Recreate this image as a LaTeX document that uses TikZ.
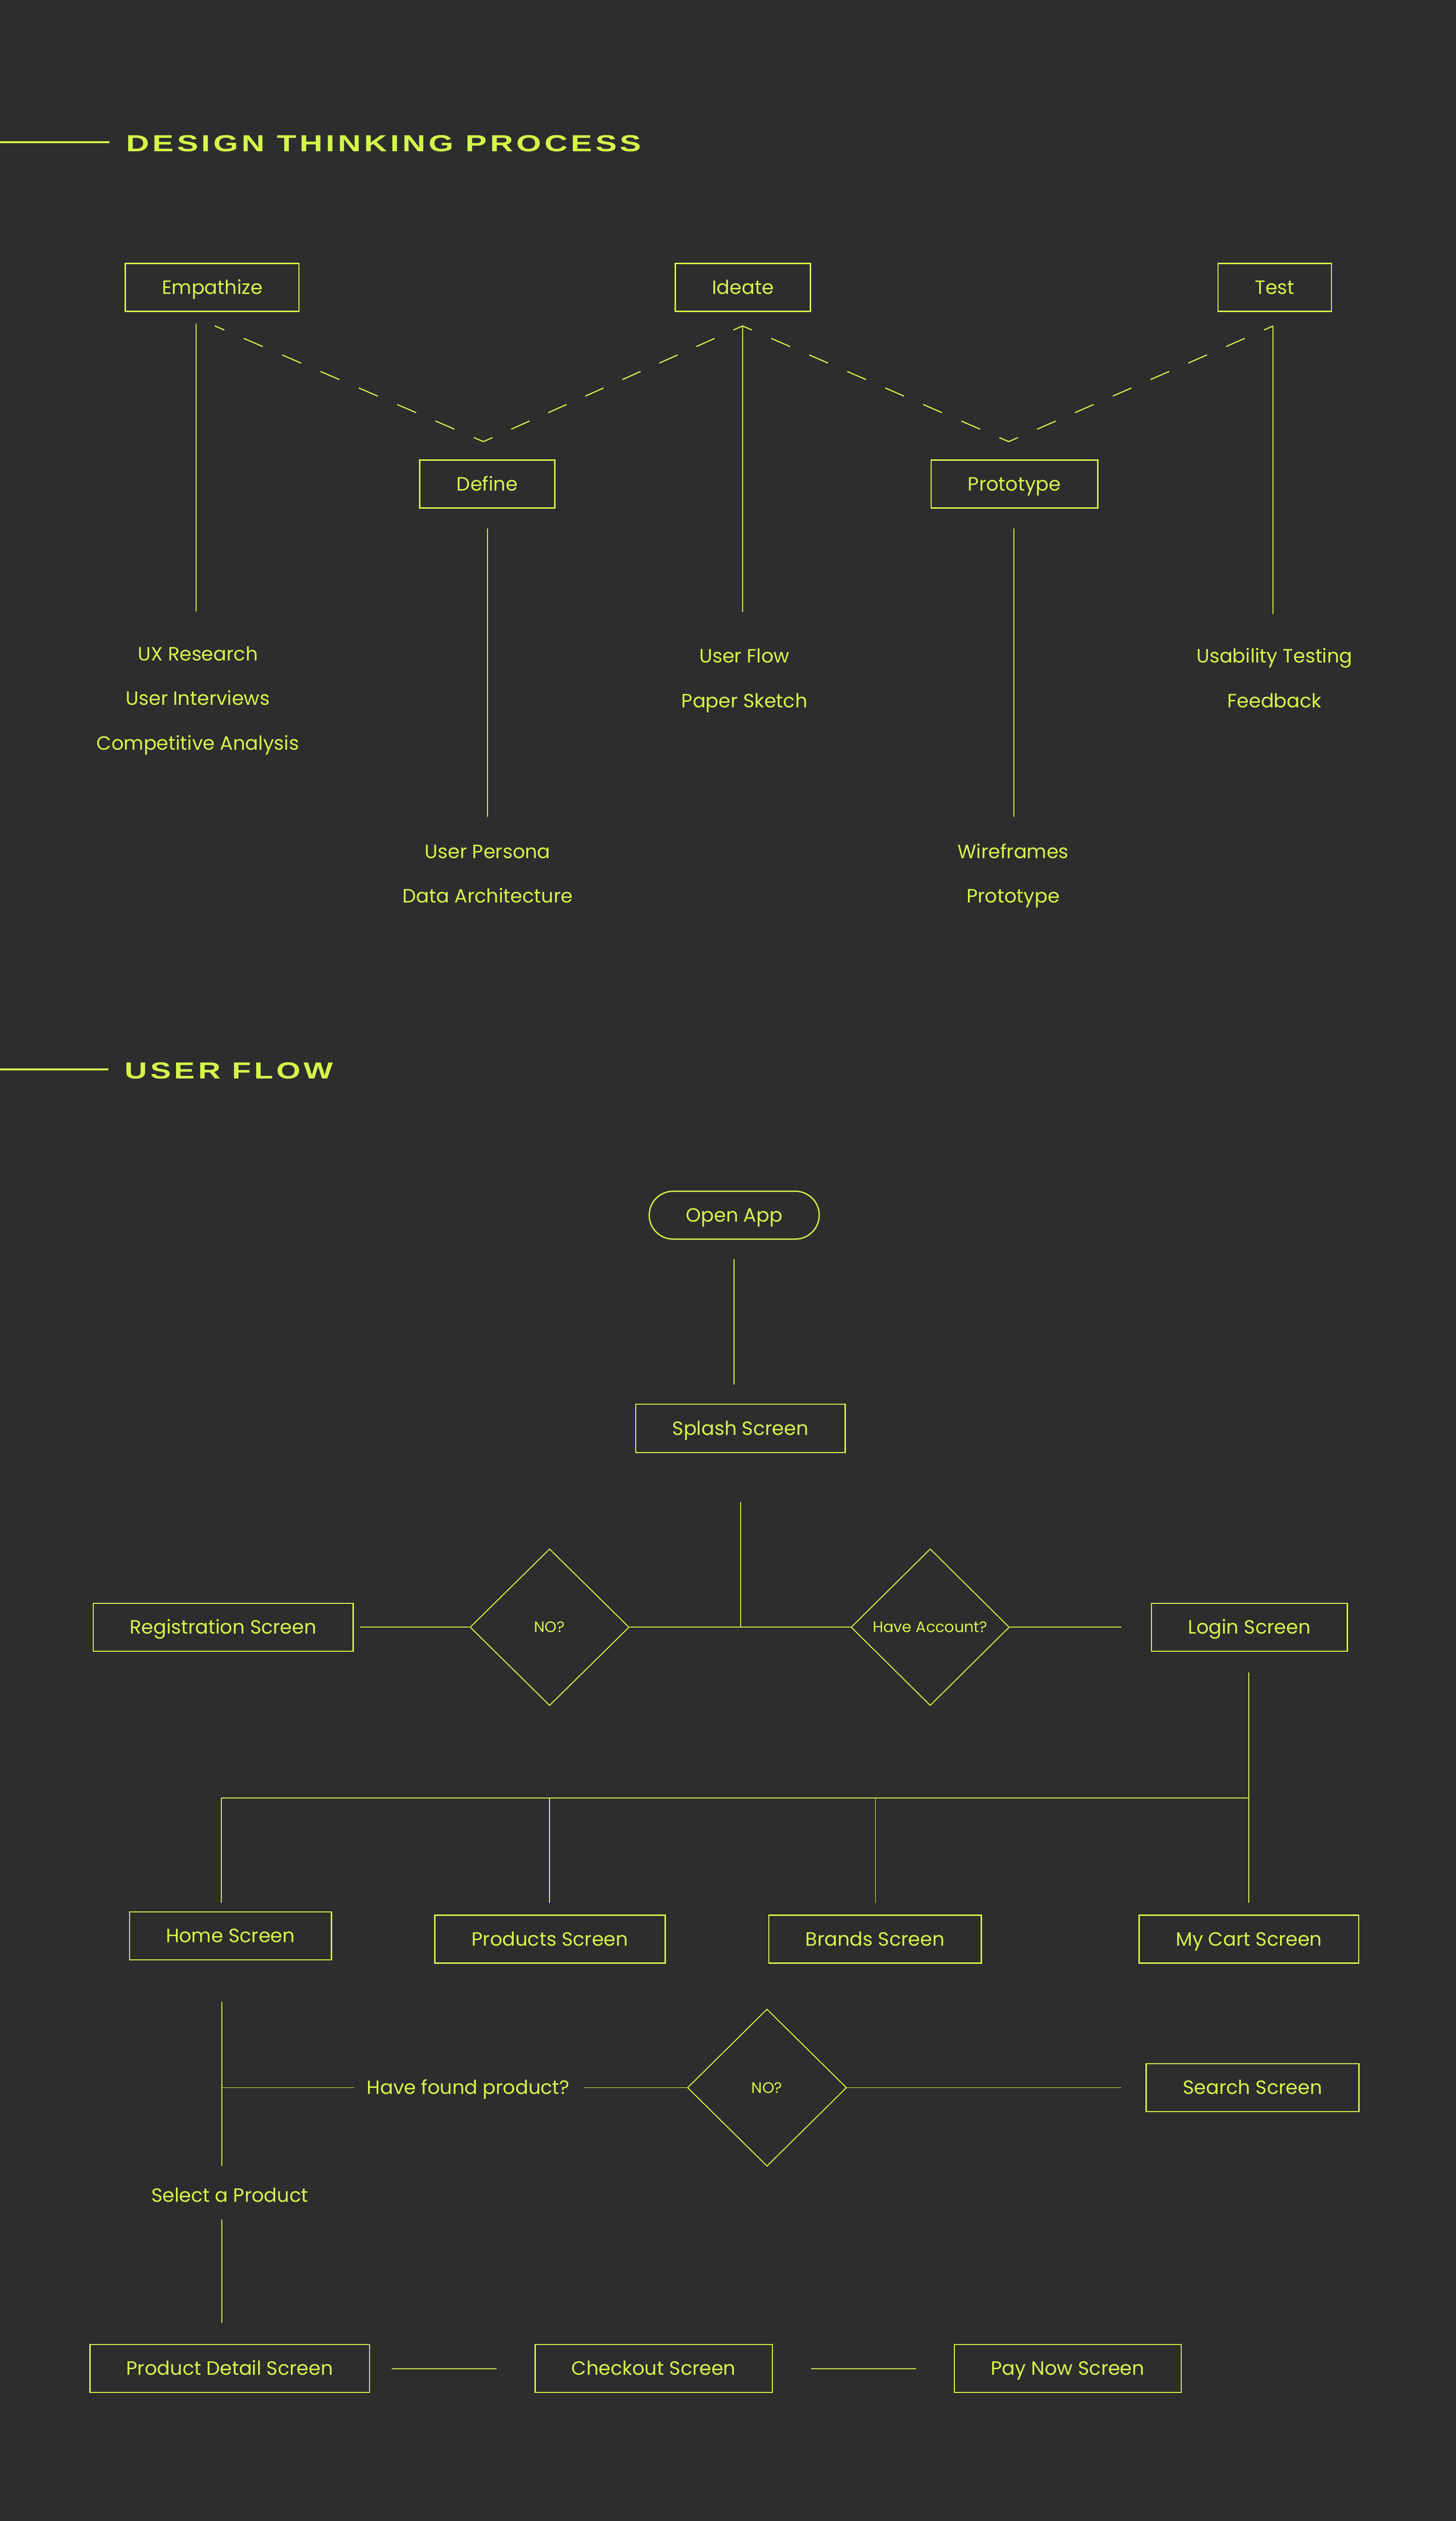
\documentclass[tikz,border=0pt]{standalone}
\usepackage{graphicx}
\usepackage{fontspec}
\setmainfont{Poppins}
\newfontfamily\titlefont[LetterSpace=10]{Liberation Sans}
\usetikzlibrary{shapes.geometric}
\definecolor{bg}{HTML}{2D2D2D}
\definecolor{lime}{HTML}{D5F74A}
\tikzset{
  lbl/.style={text=lime, font=\fontsize{12}{14}\selectfont, inner sep=0pt, text height=8.4pt, text depth=0pt},
  box/.style={lbl, draw=lime, line width=0.8pt, minimum height=29.8pt},
  pill/.style={box, rounded corners=14.9pt},
  dec/.style={draw=lime, line width=0.6pt, shape=diamond, inner sep=0pt, minimum width=99pt, minimum height=97.5pt, text=lime, font=\fontsize{9.5}{11}\selectfont, text height=6.65pt, text depth=0pt},
  conn/.style={draw=lime, line width=0.6pt},
  dashconn/.style={draw=lime, line width=0.7pt},
  titleline/.style={draw=lime, line width=1.3pt},
  ttl/.style={anchor=west, text=lime, inner sep=0pt}
}
\begin{document}
\begin{tikzpicture}[x=1pt,y=-1pt]
\useasboundingbox (0,0) rectangle (906,1568.66);
\fill[bg] (0,0) rectangle (906,1568.66);

% ---------- Titles ----------
\coordinate (tlA) at (0,88.6);
\coordinate (tlB) at (68.2,88.6);
\draw[titleline] (tlA) -- (tlB);
\node[ttl] (title1) at (78.4,89.3) {\resizebox{320.5pt}{10.1pt}{\titlefont\bfseries DESIGN THINKING PROCESS}};

\coordinate (tlC) at (0,665.4);
\coordinate (tlD) at (67.6,665.4);
\draw[titleline] (tlC) -- (tlD);
\node[ttl] (title2) at (77.6,666.1) {\resizebox{129.5pt}{10.1pt}{\titlefont\bfseries USER FLOW}};

% ---------- Design thinking boxes ----------
\node[box, minimum width=108.1pt] (emp) at (132.05,178.85) {Empathize};
\node[box, minimum width=84.1pt] (ide) at (462.35,178.85) {Ideate};
\node[box, minimum width=70.7pt] (tst) at (793.25,178.85) {Test};
\node[box, minimum width=84.2pt] (dfn) at (303.2,301.15) {Define};
\node[box, minimum width=103.7pt] (pro) at (631.25,301.15) {Prototype};

% zig-zag dashed path
\coordinate (zs) at (133.7,202.8);
\coordinate (zv1) at (300.8,274.8);
\coordinate (zp1) at (462.1,202.8);
\coordinate (zv2) at (627.7,274.8);
\coordinate (zt) at (792.3,202.8);
\draw[dashconn, dash pattern=on 12.84pt off 13.15pt, dash phase=6.42pt] (zs) -- (zv1);
\draw[dashconn, dash pattern=on 12.46pt off 12.77pt, dash phase=6.23pt] (zv1) -- (zp1);
\draw[dashconn, dash pattern=on 12.74pt off 13.06pt, dash phase=6.37pt] (zp1) -- (zv2);
\draw[dashconn, dash pattern=on 12.68pt off 12.99pt, dash phase=6.34pt] (zv2) -- (zt);

% vertical stems
\coordinate (eT) at (122,201.3);
\coordinate (eB) at (122,380.7);
\draw[conn] (eT) -- (eB);
\coordinate (dT) at (303.5,328.9);
\coordinate (dB) at (303.5,508.1);
\draw[conn] (dT) -- (dB);
\coordinate (iB) at (462.1,381);
\draw[conn] (zp1) -- (iB);
\coordinate (pT) at (630.8,328.9);
\coordinate (pB) at (630.8,508.1);
\draw[conn] (pT) -- (pB);
\coordinate (tB) at (792.3,382);
\draw[conn] (zt) -- (tB);

% item lists
\node[lbl] (e1) at (123.1,406.8) {UX Research};
\node[lbl] (e2) at (123.1,434.7) {User Interviews};
\node[lbl] (e3) at (123.1,462.4) {Competitive Analysis};
\node[lbl] (d1t) at (303.5,529.9) {User Persona};
\node[lbl] (d2t) at (303.5,557.6) {Data Architecture};
\node[lbl] (i1) at (463.3,408.1) {User Flow};
\node[lbl] (i2) at (463.3,436.1) {Paper Sketch};
\node[lbl] (p1) at (630.5,529.9) {Wireframes};
\node[lbl] (p2) at (630.5,557.6) {Prototype};
\node[lbl] (t1) at (793.1,408.1) {Usability Testing};
\node[lbl] (t2) at (793.1,436.1) {Feedback};

% ---------- User flow ----------
\node[pill, minimum width=105.8pt] (open) at (456.9,756.1) {Open App};
\node[box, minimum width=130.3pt, minimum height=30pt] (splash) at (460.75,888.8) {Splash Screen};
\coordinate (oaB) at (456.8,783.4);
\coordinate (spT) at (456.8,861.6);
\draw[conn] (oaB) -- (spT);

\node[dec] (dno) at (342.0,1012.5) {NO?};
\node[dec, minimum width=98.5pt] (dacc) at (578.85,1012.5) {Have Account?};
\node[box, minimum width=161.7pt] (reg) at (138.85,1012.5) {Registration Screen};
\node[box, minimum width=121.9pt] (login) at (777.45,1012.5) {Login Screen};

\coordinate (spB) at (460.8,934.5);
\coordinate (spJ) at (460.8,1012.5);
\draw[conn] (spB) -- (spJ);
\draw[conn] (dno.east) -- (dacc.west);
\coordinate (regE) at (223.9,1012.5);
\draw[conn] (regE) -- (dno.west);
\coordinate (logW) at (697.7,1012.5);
\draw[conn] (dacc.east) -- (logW);

\node[box, minimum width=125.6pt] (home) at (143.4,1204.55) {Home Screen};
\node[box, minimum width=143.3pt] (prods) at (342.25,1206.55) {Products Screen};
\node[box, minimum width=132.3pt] (brands) at (544.55,1206.55) {Brands Screen};
\node[box, minimum width=136.6pt] (cart) at (777.2,1206.55) {My Cart Screen};

\coordinate (lgB) at (777.2,1040.6);
\coordinate (cartT) at (777.2,1184.1);
\draw[conn] (lgB) -- (cartT);
\coordinate (busL) at (137.8,1118.8);
\coordinate (busR) at (777.2,1118.8);
\draw[conn] (busL) -- (busR);
\coordinate (homeT) at (137.8,1184.1);
\draw[conn] (busL) -- (homeT);
\coordinate (prJ) at (342.0,1118.8);
\coordinate (prT) at (342.0,1184.1);
\draw[conn] (prJ) -- (prT);
\coordinate (brJ) at (544.8,1118.8);
\coordinate (brT) at (544.8,1184.1);
\draw[conn] (brJ) -- (brT);

\node[dec, minimum height=97.8pt] (dno2) at (477.3,1299) {NO?};
\node[box, minimum width=132.3pt] (search) at (779.45,1299) {Search Screen};
\node[lbl] (found) at (291.4,1299) {Have found product?};
\node[lbl] (select) at (143,1365.9) {Select a Product};

\coordinate (hmB) at (137.9,1245.6);
\coordinate (hmM) at (137.9,1347.7);
\draw[conn] (hmB) -- (hmM);
\coordinate (hmJ) at (137.9,1299);
\coordinate (fdW) at (220.1,1299);
\draw[conn] (hmJ) -- (fdW);
\coordinate (fdE) at (363.7,1299);
\draw[conn] (fdE) -- (dno2.west);
\coordinate (srW) at (697.6,1299);
\draw[conn] (dno2.east) -- (srW);

\coordinate (slB) at (137.9,1381);
\coordinate (pdT) at (137.9,1445.5);
\draw[conn] (slB) -- (pdT);

\node[box, minimum width=174pt] (pdet) at (143,1473.7) {Product Detail Screen};
\node[box, minimum width=147.6pt] (chk) at (406.8,1473.7) {Checkout Screen};
\node[box, minimum width=141.1pt] (pay) at (664.45,1473.7) {Pay Now Screen};
\coordinate (c1a) at (243.9,1474);
\coordinate (c1b) at (308.9,1474);
\draw[conn] (c1a) -- (c1b);
\coordinate (c2a) at (504.7,1474);
\coordinate (c2b) at (570.1,1474);
\draw[conn] (c2a) -- (c2b);
\end{tikzpicture}
\end{document}
